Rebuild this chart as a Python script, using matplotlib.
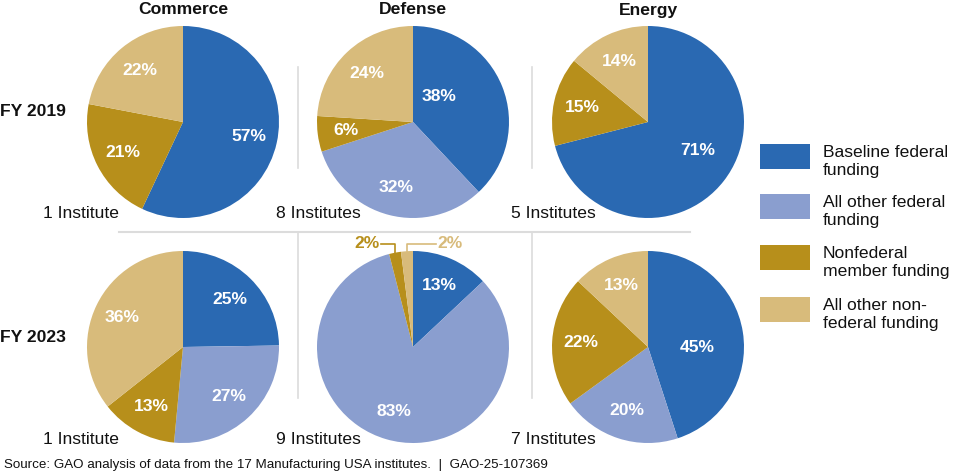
#!/usr/bin/env python3
"""
Fuentes de financiamiento de los institutos Manufacturing USA por agencia,
FY 2019 vs FY 2023 (tortas en grilla 2x3 con leyenda a la derecha).
"""

import matplotlib
matplotlib.use("Agg")
import matplotlib.pyplot as plt
import numpy as np
from matplotlib.lines import Line2D
from matplotlib.patches import Rectangle

# ---- datos ----
agencies = ["Commerce", "Defense", "Energy"]
years = ["FY 2019", "FY 2023"]
legend_labels = [
    "Baseline federal\nfunding",
    "All other federal\nfunding",
    "Nonfederal\nmember funding",
    "All other non-\nfederal funding",
]
institutes_2019 = ["1 Institute", "8 Institutes", "5 Institutes"]
institutes_2023 = ["1 Institute", "9 Institutes", "7 Institutes"]

# orden: baseline, otro federal, miembro no federal, otro no federal
commerce_2019 = [57, 0, 21, 22]
defense_2019 = [38, 32, 6, 24]
energy_2019 = [71, 0, 15, 14]
commerce_2023 = [25, 27, 13, 36]
defense_2023 = [13, 83, 2, 2]
energy_2023 = [45, 20, 22, 13]

source_note = "Source: GAO analysis of data from the 17 Manufacturing USA institutes.  |  GAO-25-107369"

# ---- estilo ----
COLORS = ["#2a69b2", "#8a9ecf", "#b78f1b", "#d8bb7b"]
FONT = ["Liberation Sans", "DejaVu Sans"]
FS = 12.6
W, H = 960, 474
R = 96  # radio de cada torta en px
COL_X = [183, 413, 648]
ROW_Y = [122, 347]
LABEL_DIST = 0.7
# algunas etiquetas están puestas a mano en el original (dx, dy en radios)
LABEL_OVERRIDE = {
    (1, 0, 0): (0.27, 0.27),
    (2, 0, 0): (0.52, -0.30),
    (2, 1, 0): (0.51, 0.0),
}

plt.rcParams["font.family"] = FONT


def fx(x):
    return x / W


def fy(y):
    return 1 - y / H


def draw_pie(fig, vals, col, row):
    cx, cy = COL_X[col], ROW_Y[row]
    ax = fig.add_axes([fx(cx - R), fy(cy + R), 2 * R / W, 2 * R / H])
    ax.pie(vals, colors=COLORS, startangle=90, counterclock=False,
           wedgeprops=dict(linewidth=0))
    ax.set_xlim(-1, 1)
    ax.set_ylim(-1, 1)
    ax.set_aspect("equal")
    ax.axis("off")

    total = float(sum(vals))
    cum = 0.0
    for i, v in enumerate(vals):
        if v == 0:
            continue
        mid = (cum + v / 2) / total
        cum += v
        ang = np.deg2rad(90 - 360 * mid)
        ex, ey = np.cos(ang), np.sin(ang)
        if v >= 5:
            if (col, row, i) in LABEL_OVERRIDE:
                tx, ty = LABEL_OVERRIDE[(col, row, i)]
            else:
                tx, ty = LABEL_DIST * ex, LABEL_DIST * ey
            ax.text(tx, ty, f"{v}%", ha="center", va="center", color="white",
                    fontsize=FS, fontweight="bold")
        else:
            # etiqueta afuera con línea guía
            ly = 1.075
            if ex < 0 and i == 2:
                tx_end, ha, tx = -0.33, "right", -0.345
            else:
                tx_end, ha, tx = 0.24, "left", 0.25
            ax.add_line(Line2D([ex, ex, tx_end], [ey, ly, ly], color=COLORS[i],
                               lw=1.2, clip_on=False))
            ax.text(tx, ly, f"{v}%", ha=ha, va="center", color=COLORS[i],
                    fontsize=FS, fontweight="bold", clip_on=False)
    return ax


def main():
    fig = plt.figure(figsize=(W / 100, H / 100), dpi=100)

    # líneas grises separadoras
    grid_c = "#dcdcdc"
    fig.add_artist(Line2D([fx(119), fx(690)], [fy(232), fy(232)], color=grid_c, lw=1.5))
    for x in (298, 532):
        fig.add_artist(Line2D([fx(x), fx(x)], [fy(67), fy(168)], color=grid_c, lw=1.2))
        fig.add_artist(Line2D([fx(x), fx(x)], [fy(232), fy(398)], color=grid_c, lw=1.2))

    rows = [
        [commerce_2019, defense_2019, energy_2019],
        [commerce_2023, defense_2023, energy_2023],
    ]
    for r, row_vals in enumerate(rows):
        for c, vals in enumerate(row_vals):
            draw_pie(fig, vals, c, r)

    # títulos de columna
    for c, name in enumerate(agencies):
        fig.text(fx(COL_X[c]), fy(10), name, ha="center", va="center",
                 fontsize=FS, fontweight="bold", color="#111111")

    # etiquetas de fila
    fig.text(fx(0), fy(112), years[0], ha="left", va="center",
             fontsize=FS, fontweight="bold", color="#111111")
    fig.text(fx(0), fy(338), years[1], ha="left", va="center",
             fontsize=FS, fontweight="bold", color="#111111")

    # cantidad de institutos
    inst_x = [43, 276, 511]
    for c in range(3):
        fig.text(fx(inst_x[c]), fy(213), institutes_2019[c], ha="left", va="center",
                 fontsize=FS, color="#111111")
        fig.text(fx(inst_x[c]), fy(440), institutes_2023[c], ha="left", va="center",
                 fontsize=FS, color="#111111")

    # leyenda
    tops = [144, 194, 245, 297]
    for i, lab in enumerate(legend_labels):
        fig.add_artist(Rectangle((fx(760), fy(tops[i] + 25)), 50 / W, 25 / H,
                                 facecolor=COLORS[i], edgecolor="none"))
        fig.text(fx(823), fy(tops[i] + 1), lab, ha="left", va="top",
                 fontsize=FS, color="#111111", linespacing=1.25)

    fig.text(fx(4), fy(465), source_note, ha="left", va="center",
             fontsize=9.6, color="#111111")

    fig.savefig("out.png", dpi=100)


if __name__ == "__main__":
    main()
